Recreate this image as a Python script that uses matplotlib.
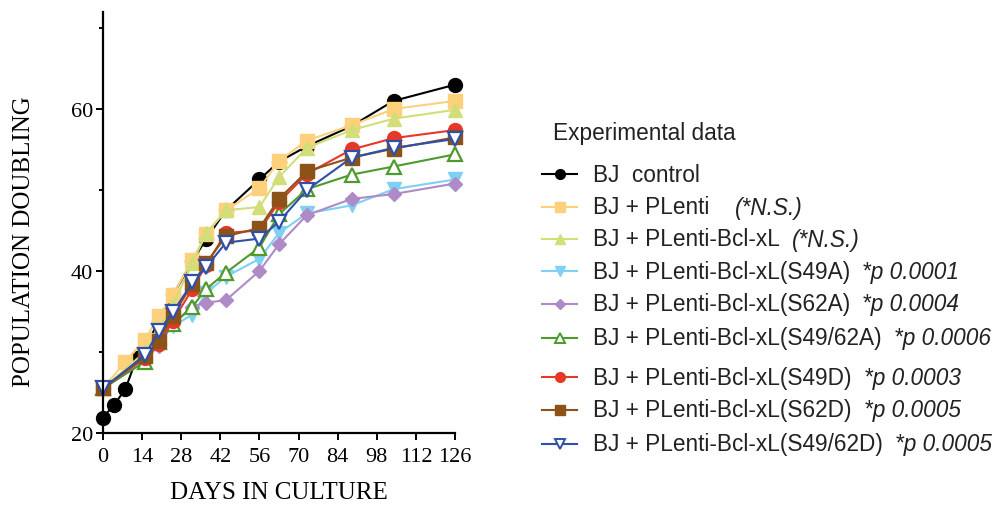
"""Population doubling curves of BJ fibroblasts with Bcl-xL mutants."""

import matplotlib

matplotlib.use("Agg")
import matplotlib.pyplot as plt
from matplotlib.lines import Line2D

# days in culture for each series
DAYS_CONTROL = [0, 4, 8, 12, 15, 20, 25, 32, 37, 44, 56, 63, 73, 89, 104, 126]
DAYS_PLENTI = [0, 8, 15, 20, 25, 32, 37, 44, 56, 63, 73, 89, 104, 126]
DAYS = [0, 15, 20, 25, 32, 37, 44, 56, 63, 73, 89, 104, 126]

BJ_CONTROL = [21.9, 23.5, 25.4, 29.2, 30.5, 33.8, 37.0, 41.2, 44.0, 47.5, 51.3, 53.5, 55.4, 57.9, 61.0, 63.0]
PLENTI = [25.5, 28.8, 31.5, 34.4, 37.0, 41.4, 44.6, 47.5, 50.2, 53.6, 56.1, 58.0, 60.0, 61.0]
BCLXL = [25.5, 30.0, 32.8, 35.8, 41.0, 44.7, 47.5, 47.9, 51.6, 55.2, 57.4, 58.8, 59.9]
S49A = [25.5, 29.2, 31.3, 33.2, 34.6, 37.3, 39.3, 41.5, 44.7, 47.1, 48.1, 50.1, 51.3]
S62A = [25.5, 29.0, 30.8, 33.5, 35.6, 36.1, 36.4, 40.0, 43.3, 46.9, 48.9, 49.5, 50.8]
S4962A = [25.5, 28.8, 31.2, 33.4, 35.6, 37.8, 39.8, 42.9, 47.0, 50.1, 51.9, 52.9, 54.4]
S49D = [25.5, 29.3, 31.0, 33.8, 37.8, 40.8, 44.7, 45.0, 48.5, 52.0, 55.0, 56.4, 57.4]
S62D = [25.5, 29.5, 31.4, 34.5, 38.4, 41.0, 44.3, 45.3, 48.9, 52.3, 54.0, 55.1, 56.5]
S4962D = [25.5, 29.6, 32.6, 34.9, 38.6, 40.5, 43.5, 44.0, 46.1, 50.0, 54.0, 55.2, 56.3]

LABELS = [
    "BJ  control",
    "BJ + PLenti",
    "BJ + PLenti-Bcl-xL",
    "BJ + PLenti-Bcl-xL(S49A)",
    "BJ + PLenti-Bcl-xL(S62A)",
    "BJ + PLenti-Bcl-xL(S49/62A)",
    "BJ + PLenti-Bcl-xL(S49D)",
    "BJ + PLenti-Bcl-xL(S62D)",
    "BJ + PLenti-Bcl-xL(S49/62D)",
]
NOTES = ["", "(*N.S.)", "(*N.S.)", "*p 0.0001", "*p 0.0004",
         "*p 0.0006", "*p 0.0003", "*p 0.0005", "*p 0.0005"]

SERIES = [
    (DAYS_CONTROL, BJ_CONTROL),
    (DAYS_PLENTI, PLENTI),
    (DAYS, BCLXL),
    (DAYS, S49A),
    (DAYS, S62A),
    (DAYS, S4962A),
    (DAYS, S49D),
    (DAYS, S62D),
    (DAYS, S4962D),
]

# colour, marker, size, filled
STYLES = [
    ("#000000", "o", 10.0, True),
    ("#FDD07C", "s", 9.5, True),
    ("#D2DE78", "^", 10.0, True),
    ("#7FD0F2", "v", 10.0, True),
    ("#AE8BC6", "D", 7.0, True),
    ("#4E9A2C", "^", 10.0, False),
    ("#E63828", "o", 10.0, True),
    ("#8C5218", "s", 10.0, True),
    ("#2F4FA8", "v", 10.0, False),
]

SERIF = ["Liberation Serif", "DejaVu Serif"]
SANS = ["Liberation Sans", "DejaVu Sans"]

fig = plt.figure(figsize=(10.0, 5.06), dpi=100)
ax = fig.add_axes([0.103, 0.1423, 0.352, 0.8324])

for (days, values), (color, marker, size, filled) in zip(SERIES, STYLES):
    ax.plot(
        days, values,
        color=color, linewidth=1.5,
        marker=marker, markersize=size,
        markerfacecolor=color if filled else "white",
        markeredgecolor=color,
        markeredgewidth=1.0 if filled else 1.6,
        clip_on=False,
    )

ax.set_xlim(0, 126)
ax.set_ylim(20, 72)
ax.set_xticks(range(0, 127, 14))
ax.set_yticks([20, 40, 60])
ax.set_yticks([30, 50, 70], minor=True)
for side in ("top", "right"):
    ax.spines[side].set_visible(False)
for side in ("left", "bottom"):
    ax.spines[side].set_linewidth(1.6)
ax.tick_params(which="major", direction="out", length=5, width=1.4, pad=2)
ax.tick_params(axis="x", which="major", pad=5)
ax.tick_params(which="minor", direction="out", length=3, width=1.4)
for lab in ax.get_xticklabels() + ax.get_yticklabels():
    lab.set_family(SERIF)
    lab.set_fontsize(16)

ax.set_xlabel("DAYS IN CULTURE", family=SERIF, fontsize=18)
ax.set_ylabel("POPULATION DOUBLING", family=SERIF, fontsize=18)
ax.xaxis.set_label_coords(0.5, -0.14)
ax.xaxis.label.set_va("center")
ax.yaxis.set_label_coords(-0.225, 0.456)
ax.yaxis.label.set_va("center")

# legend drawn by hand on an overlay in pixel coordinates
lax = fig.add_axes([0, 0, 1, 1])
lax.set_xlim(0, 1000)
lax.set_ylim(506, 0)
lax.axis("off")

lax.text(553, 133, "Experimental data", family=SANS, fontsize=16.3,
         va="center", ha="left", color="#222222")
ROW_Y = [175, 208, 240, 272, 305, 339, 378, 411, 445]
for y, label, note, (color, marker, size, filled) in zip(ROW_Y, LABELS, NOTES, STYLES):
    lax.add_line(Line2D([542, 577], [y, y], color=color, linewidth=1.5))
    lax.plot([559.5], [y], marker=marker, markersize=size * 0.7,
             color=color, markerfacecolor=color if filled else "white",
             markeredgewidth=1.0 if filled else 1.4)
    txt = lax.text(593, y, label, family=SANS, fontsize=16.3,
                   va="center", ha="left", color="#222222")
    if note:
        gap = 26 if label == "BJ + PLenti" else 12
        lax.annotate(note, xy=(1, 0.5), xycoords=txt, xytext=(gap, 0),
                     textcoords="offset pixels", family=SANS, fontsize=16.3,
                     style="italic", va="center", ha="left", color="#222222")

fig.savefig("out.png", dpi=100)
plt.close(fig)
